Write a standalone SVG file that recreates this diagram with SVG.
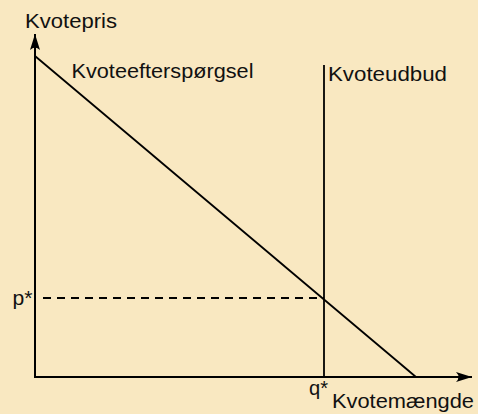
<svg xmlns="http://www.w3.org/2000/svg" width="478" height="414" viewBox="0 0 478 414">
  <style>
    .ln { stroke: #000; fill: none; stroke-width: 1.8; }
    .ax { stroke: #000; fill: none; stroke-width: 2; }
    .lbl { font-family: "Liberation Sans", Arial, sans-serif; font-size: 21px; fill: #111; }
  </style>
  <defs>
    <marker id="arr" markerUnits="userSpaceOnUse" markerWidth="20" markerHeight="14" viewBox="-17 -7 20 14" refX="0" refY="0" orient="auto">
      <path d="M0,0 L-16,-5 Q-11,0 -16,5 Z" fill="#000"/>
    </marker>
  </defs>
  <rect x="0" y="0" width="478" height="414" fill="#F9E8C1"/>
  <g id="axes">
    <line class="ax" x1="35" y1="377" x2="35" y2="34" marker-end="url(#arr)"/>
    <line class="ax" x1="34" y1="377" x2="472" y2="377" marker-end="url(#arr)"/>
  </g>
  <g id="connectors">
    <line id="demand" class="ln" x1="35" y1="56" x2="416" y2="377"/>
    <line id="supply" class="ln" x1="324" y1="65" x2="324" y2="377"/>
    <line id="pstar-line" class="ln" x1="43" y1="298" x2="324" y2="298" stroke-dasharray="8,6" stroke-width="1.5"/>
  </g>
  <g id="labels">
    <text class="lbl" x="25" y="27.5" textLength="92" lengthAdjust="spacingAndGlyphs">Kvotepris</text>
    <text class="lbl" x="71.5" y="77.5" textLength="182" lengthAdjust="spacingAndGlyphs">Kvoteefterspørgsel</text>
    <text class="lbl" x="328" y="81" textLength="119" lengthAdjust="spacingAndGlyphs">Kvoteudbud</text>
    <text class="lbl" x="332" y="408" textLength="142" lengthAdjust="spacingAndGlyphs">Kvotemængde</text>
    <text class="lbl" x="12.5" y="305" textLength="20" lengthAdjust="spacingAndGlyphs">p*</text>
    <text class="lbl" x="309" y="395" textLength="19" lengthAdjust="spacingAndGlyphs">q*</text>
  </g>
</svg>
